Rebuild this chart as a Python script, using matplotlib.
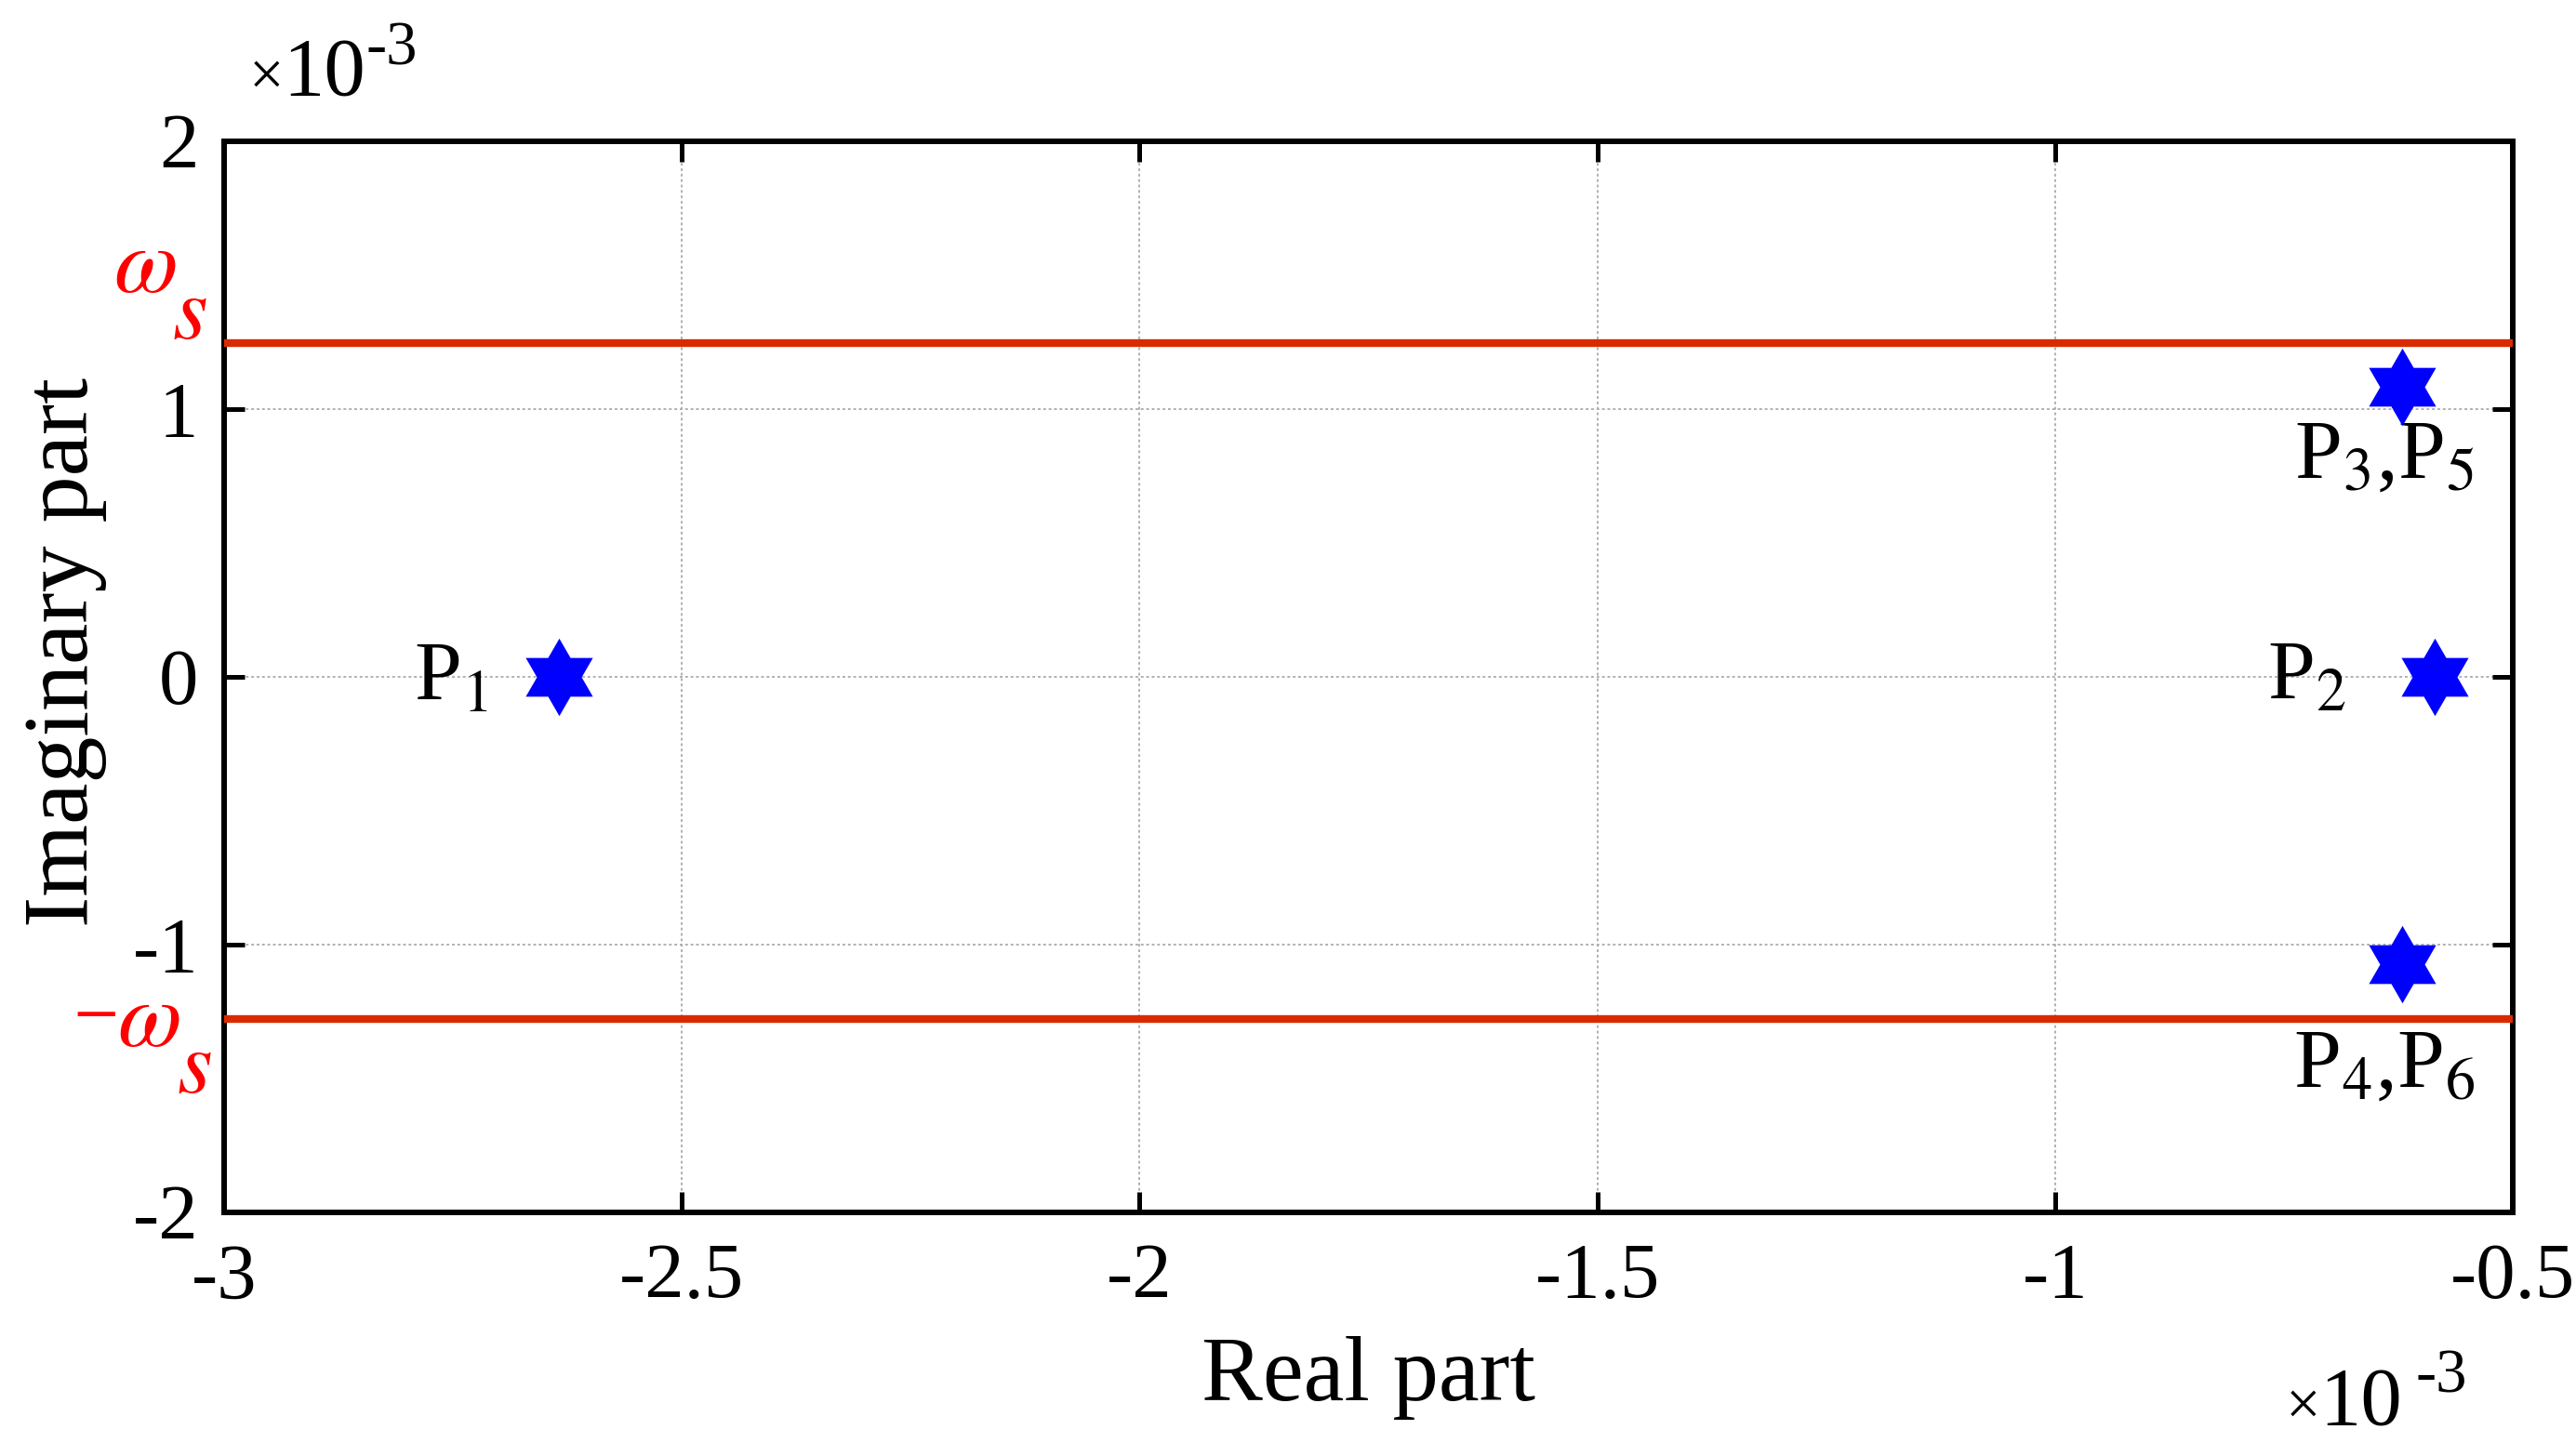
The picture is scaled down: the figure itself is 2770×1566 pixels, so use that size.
import matplotlib
matplotlib.use("Agg")
import numpy as np
import matplotlib.pyplot as plt
from matplotlib.transforms import blended_transform_factory

plt.rcParams['font.family'] = ['Liberation Serif', 'DejaVu Serif']
plt.rcParams['mathtext.fontset'] = 'stix'
plt.rcParams['axes.unicode_minus'] = False

# Data (values in units of 1e-3)
pole_names = ["P$_1$", "P$_2$", "P$_3$,P$_5$", "P$_4$,P$_6$"]
pole_real = [-2.634, -0.585, -0.621, -0.621]
pole_imag = [0.0, 0.0, 1.083, -1.074]
omega_s_upper = 1.245
omega_s_lower = -1.278
xticks = [-3, -2.5, -2, -1.5, -1, -0.5]
yticks = [-2, -1, 0, 1, 2]
xticklabels = ["-3", "-2.5", "-2", "-1.5", "-1", "-0.5"]
yticklabels = ["-2", "-1", "0", "1", "2"]

W, H = 2770, 1566
fig = plt.figure(figsize=(W / 100, H / 100), dpi=100)
ax_l, ax_r, ax_t, ax_b = 241, 2702, 152, 1304
ax = fig.add_axes([ax_l / W, 1 - ax_b / H, (ax_r - ax_l) / W, (ax_b - ax_t) / H])

ax.set_xlim(-3, -0.5)
ax.set_ylim(-2, 2)
ax.set_xticks(xticks)
ax.set_yticks(yticks)
ax.set_xticklabels(xticklabels)
ax.set_yticklabels(yticklabels)

ax.grid(True, linestyle=(0, (1.5, 1.5)), color='#b0b0b0', linewidth=1.4)
ax.set_axisbelow(True)

red = '#d92b00'
ax.axhline(omega_s_upper, color=red, linewidth=6, zorder=3)
ax.axhline(omega_s_lower, color=red, linewidth=6, zorder=3)

# hexagram marker shape
ang_out = np.deg2rad(90 + 60 * np.arange(6))
ang_in = ang_out + np.deg2rad(30)
rin = 1 / np.sqrt(3)
verts = []
for a, b in zip(ang_out, ang_in):
    verts.append((np.cos(a), np.sin(a)))
    verts.append((rin * np.cos(b), rin * np.sin(b)))
verts.append(verts[0])

ax.plot(pole_real, pole_imag, linestyle='none', marker=verts,
        markersize=60, color='#0000ff', markeredgewidth=0, zorder=4)

# pole labels
offsets = [(-55, -18, 'right'), (-69, -18, 'right'), (-14, -71, 'center'), (-14, -95, 'center')]
for name, x, y, (dx, dy, ha) in zip(pole_names, pole_real, pole_imag, offsets):
    ax.annotate(name, xy=(x, y), xytext=(dx, dy), textcoords='offset points',
                ha=ha, va='baseline', fontsize=66, color='black')

for sp in ax.spines.values():
    sp.set_linewidth(4.3)
ax.tick_params(direction='in', length=16, width=3.6, top=True, right=True,
               labelsize=61)
ax.tick_params(axis='y', pad=20)
ax.tick_params(axis='x', pad=24)

ax.set_xlabel("Real part", fontsize=71, labelpad=16)
ax.set_ylabel("Imaginary part", fontsize=72)
ax.yaxis.set_label_coords(-0.051, 0.523)

# omega_s labels
tr = blended_transform_factory(ax.transAxes, ax.transData)
def lab(txt, y, dx, dy, size=72):
    ax.annotate(txt, xy=(0, y), xycoords=tr, xytext=(dx, dy), textcoords='offset points',
                ha='left', va='baseline', fontsize=size, color='#ff0000', annotation_clip=False)

lab(r'$\omega$', omega_s_upper, -86, 40)
lab(r'$s$', omega_s_upper, -40, 4, size=70)
lab(r'$-$', omega_s_lower, -117, -8, size=52)
lab(r'$\omega$', omega_s_lower, -83, -21)
lab(r'$s$', omega_s_lower, -37, -57, size=70)

# x10^-3 multipliers (pixel positions of the reference)
def ftxt(s, x, y, size):
    fig.text(x / W, 1 - y / H, s, fontsize=size, ha='left', va='baseline')

ftxt("×", 268, 102, 48)
ftxt("10", 304, 102, 64)
ftxt("-3", 394, 70, 48)
ftxt("×", 2458, 1532, 48)
ftxt("10", 2494, 1532, 64)
ftxt("-3", 2597, 1498, 48)

fig.savefig("out.png", dpi=100)
